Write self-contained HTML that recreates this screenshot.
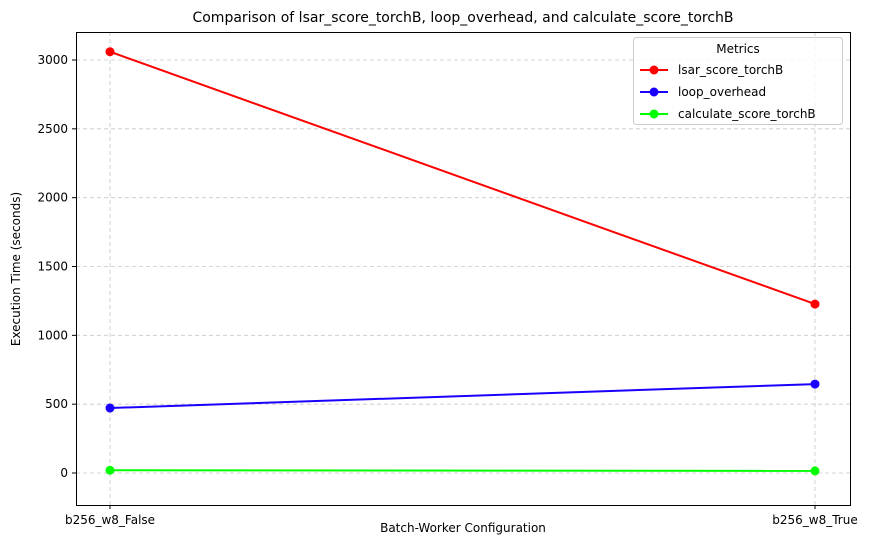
<!DOCTYPE html>
<html><head><meta charset="utf-8">
<style>
body{margin:0;background:#fff;font-family:"Liberation Sans","DejaVu Sans",sans-serif;}
svg text{font-family:"DejaVu Sans","Liberation Sans",sans-serif;}
</style></head>
<body>
<svg id="chart" width="874" height="545" xmlns="http://www.w3.org/2000/svg">
<text x="463" y="22" font-size="14" text-anchor="middle" fill="#000">Comparison of lsar_score_torchB, loop_overhead, and calculate_score_torchB</text>
<g id="grid"></g>
<g id="axes"></g>
<g id="series"></g>
<rect x="76.5" y="32.5" width="774" height="473" fill="none" stroke="#000" stroke-width="1"/>
<text x="463" y="532" font-size="12" text-anchor="middle">Batch-Worker Configuration</text>
<text transform="translate(20,269) rotate(-90)" font-size="12" text-anchor="middle">Execution Time (seconds)</text>
<g id="legend">
<rect x="633.5" y="37.5" width="209" height="87" rx="3" fill="#fff" fill-opacity="0.8" stroke="#ccc"/>
<text x="738" y="53" font-size="12" text-anchor="middle">Metrics</text>
</g>
</svg>
<script>
const categories=["b256_w8_False","b256_w8_True"];
const seriesNames=["lsar_score_torchB","loop_overhead","calculate_score_torchB"];
const lsarValues=[3060,1227];
const loopValues=[472,646];
const calcValues=[20,15];
const yTicks=[0,500,1000,1500,2000,2500,3000];
const colors=["#ff0000","#1a00ff","#00ff00"];
const NS="http://www.w3.org/2000/svg";
const xScale=i=>110+i*(815-110)/(categories.length-1);
const yScale=v=>473-v*(473-60)/3000;
function mk(tag,attrs,parent){const e=document.createElementNS(NS,tag);for(const k in attrs)e.setAttribute(k,attrs[k]);parent.appendChild(e);return e;}
const grid=document.getElementById('grid'),axes=document.getElementById('axes'),ser=document.getElementById('series'),leg=document.getElementById('legend');
yTicks.forEach(t=>{const y=yScale(t);
 const g=mk('line',{x1:76,x2:850,y1:y,y2:y,stroke:'#b0b0b0','stroke-dasharray':'4,3','stroke-width':0.8,'stroke-opacity':0.7},grid);
 
 const tk=mk('line',{x1:72,x2:76,y1:y,y2:y,stroke:'#000'},axes);
 
 const tx=mk('text',{x:68,y:y+4,'font-size':12,'text-anchor':'end'},axes);tx.textContent=t;
 
});
categories.forEach((c,i)=>{const x=xScale(i);
 const g=mk('line',{x1:x,x2:x,y1:32,y2:505,stroke:'#b0b0b0','stroke-dasharray':'4,3','stroke-width':0.8,'stroke-opacity':0.7},grid);
 
 const tk=mk('line',{x1:x,x2:x,y1:505,y2:509,stroke:'#000'},axes);
 
 const tx=mk('text',{x:x,y:512+12,'font-size':12,'text-anchor':'middle'},axes);tx.textContent=c;
 
});
[lsarValues,loopValues,calcValues].forEach((vals,s)=>{
 const pts=vals.map((v,i)=>xScale(i)+','+yScale(v)).join(' ');
 const pl=mk('polyline',{points:pts,fill:'none',stroke:colors[s],'stroke-width':2},ser);
 
 vals.forEach((v,i)=>{const c=mk('circle',{cx:xScale(i),cy:yScale(v),r:4.5,fill:colors[s]},ser);
  });
 const ly=70+s*22;
 const ll=mk('line',{x1:640,x2:668,y1:ly,y2:ly,stroke:colors[s],'stroke-width':2},leg);
 
 const lc=mk('circle',{cx:654,cy:ly,r:4.5,fill:colors[s]},leg);
 
 const lt=mk('text',{x:678,y:ly+4,'font-size':12},leg);lt.textContent=seriesNames[s];
 
});
</script>
</body></html>
